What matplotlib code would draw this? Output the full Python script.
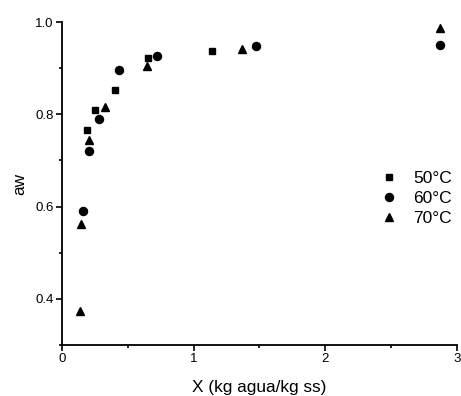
import matplotlib.pyplot as plt
from matplotlib.ticker import MultipleLocator

plt.rcParams['font.family'] = ['Liberation Sans', 'DejaVu Sans']

# datos
x_50 = [0.19, 0.25, 0.40, 0.65, 1.14]
aw_50 = [0.767, 0.809, 0.853, 0.923, 0.937]

x_60 = [0.16, 0.205, 0.283, 0.43, 0.72, 1.473, 2.87]
aw_60 = [0.590, 0.721, 0.790, 0.895, 0.926, 0.947, 0.951]

x_70 = [0.137, 0.147, 0.205, 0.324, 0.645, 1.369, 2.87]
aw_70 = [0.374, 0.562, 0.744, 0.816, 0.905, 0.941, 0.986]

labels = ['50°C', '60°C', '70°C']

fig = plt.figure(figsize=(4.61, 3.96), dpi=100)
ax = fig.add_axes([0.1345, 0.1288, 0.8565, 0.8156])

ax.plot(x_50, aw_50, 's', color='black', markersize=4.6, label=labels[0])
ax.plot(x_60, aw_60, 'o', color='black', markersize=5.8, label=labels[1])
ax.plot(x_70, aw_70, '^', color='black', markersize=6.3, label=labels[2])

ax.set_xlim(0, 3)
ax.set_ylim(0.3, 1.0)
ax.xaxis.set_major_locator(MultipleLocator(1))
ax.xaxis.set_minor_locator(MultipleLocator(0.5))
ax.yaxis.set_minor_locator(MultipleLocator(0.1))
ax.set_yticks([0.4, 0.6, 0.8, 1.0])
ax.set_yticklabels(['0.4', '0.6', '0.8', '1.0'])

ax.spines['top'].set_visible(False)
ax.spines['right'].set_visible(False)
ax.spines['left'].set_linewidth(1.3)
ax.spines['bottom'].set_linewidth(1.3)
ax.tick_params(which='major', direction='out', length=4, width=1.2, labelsize=9.5, pad=2)
ax.tick_params(which='minor', direction='out', length=2.5, width=1.2)

ax.set_xlabel('X (kg agua/kg ss)', fontsize=12.4, labelpad=10.5)
ax.set_ylabel('aw', fontsize=12.4, labelpad=6)

ax.legend(loc='upper left', bbox_to_anchor=(0.81, 0.54), frameon=False,
          fontsize=12.5, handlelength=0.8, handletextpad=1.0, labelspacing=0.28,
          borderpad=0, borderaxespad=0)

fig.savefig('out.png', dpi=100)
